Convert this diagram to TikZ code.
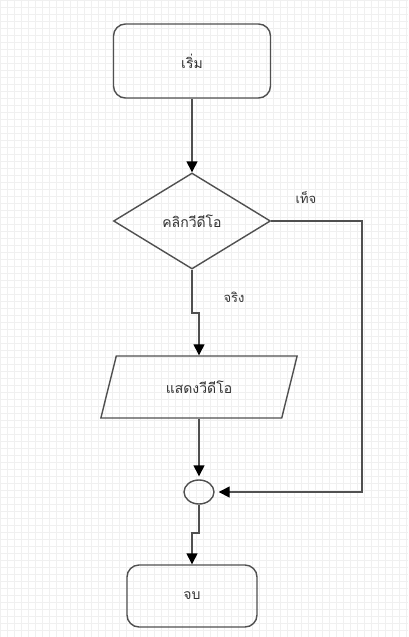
\documentclass[tikz,border=0pt]{standalone}
\usepackage{fontspec}
\newfontfamily\thaifont[Script=Thai]{Loma}
\usetikzlibrary{arrows.meta}
\usetikzlibrary{shapes.geometric}
\definecolor{linegray}{HTML}{505050}
\definecolor{textgray}{HTML}{333333}
\definecolor{gridgray}{HTML}{F0F0F0}

\begin{document}
\begin{tikzpicture}[x=1pt,y=-1pt,
    line/.style={draw=linegray,line width=1.4pt},
    flow/.style={line,-{Triangle[length=11pt,width=11pt,color=black]}},
    terminal/.style={line,rounded corners=12pt,font=\thaifont\fontsize{14}{16}\selectfont,text=textgray},
    decision/.style={line,diamond,inner sep=0pt,font=\thaifont\fontsize{14}{16}\selectfont,text=textgray},
    io/.style={line,trapezium,trapezium left angle=64,trapezium right angle=116,
        trapezium stretches=true,inner sep=0pt,font=\thaifont\fontsize{14}{16}\selectfont,text=textgray},
    joint/.style={line,ellipse,minimum width=30pt,minimum height=24pt,inner sep=0pt},
    branch/.style={font=\thaifont\fontsize{13}{15}\selectfont,text=textgray}]

    \useasboundingbox (0,0) rectangle (408,637);
    \fill[white] (0,0) rectangle (408,637);
    \foreach \gx in {0,7,...,406} \draw[gridgray,line width=0.5pt] (\gx,0) -- (\gx,637);
    \foreach \gy in {0,7,...,636} \draw[gridgray,line width=0.5pt] (0,\gy) -- (408,\gy);

    \node[terminal,minimum width=157pt,minimum height=74pt] (start) at (192,61) {เริ่ม};
    \node[decision,minimum width=157pt,minimum height=96pt] (click) at (192,221) {คลิกวีดีโอ};
    \node[io,minimum width=198pt,minimum height=62pt] (show) at (199,387) {แสดงวีดีโอ};
    \node[joint] (join) at (199,492) {};
    \node[terminal,minimum width=130pt,minimum height=62pt] (stop) at (192,596) {จบ};

    \coordinate (jogA) at (199,313);
    \coordinate (corner) at (362,492);
    \coordinate (jogB) at (192,533);

    \draw[flow] (start) -- (click);
    \draw[flow] (click.south) |- (jogA) -- (show.north -| jogA);
    \draw[flow,shorten >=4pt] (click.east) -| (corner) -- (join.east);
    \draw[flow,shorten >=3pt] (show.south -| join) -- (join.north);
    \draw[flow] (join.south) |- (jogB) -- (stop.north);

    \node[branch] (falselbl) at (306,198) {เท็จ};
    \node[branch] (truelbl) at (234,297) {จริง};
\end{tikzpicture}
\end{document}
